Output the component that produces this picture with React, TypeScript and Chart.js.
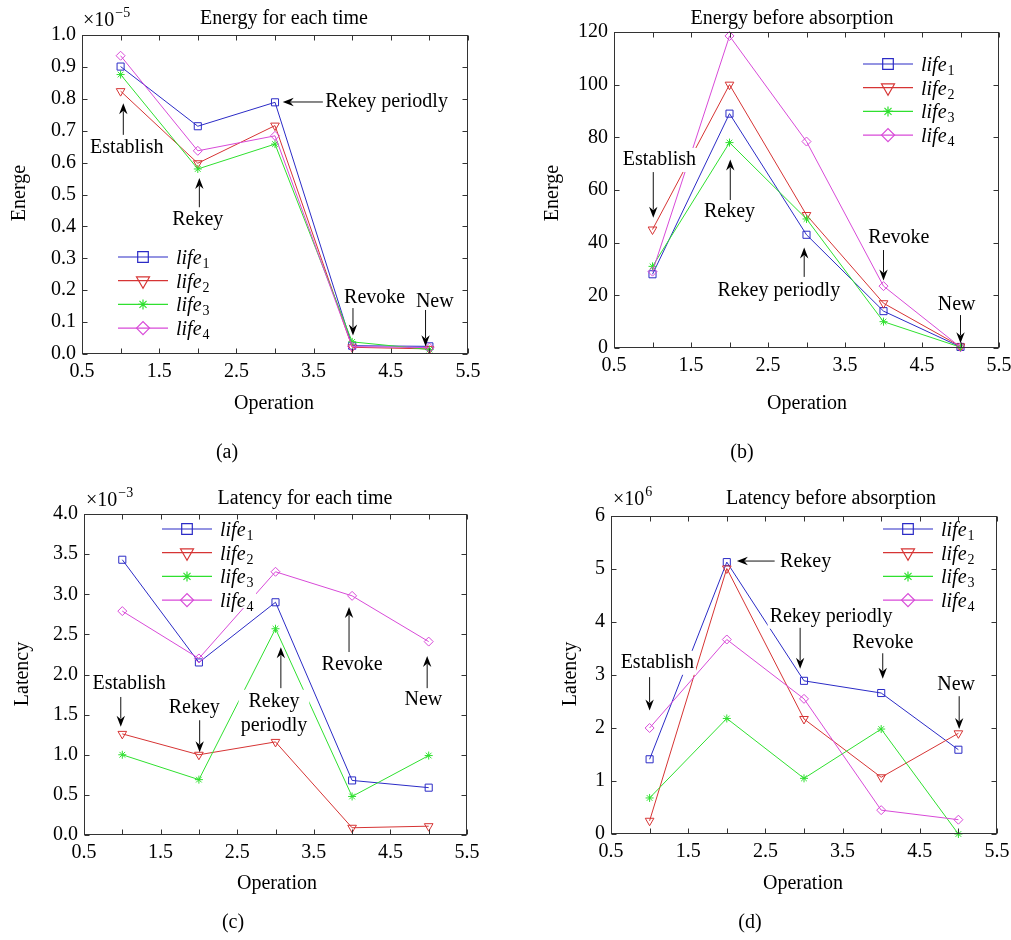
import React, { useEffect, useRef } from 'react';
import { Chart, registerables } from 'chart.js';
import { drawPoint } from 'chart.js/helpers';

Chart.register(...registerables);

// ---------------- data ----------------
const operations = [1, 2, 3, 4, 5];
const seriesNames = ['life', 'life', 'life', 'life'];
const seriesSubs = ['1', '2', '3', '4'];
const xTickValues = [0.5, 1.5, 2.5, 3.5, 4.5, 5.5];
const xMinorTickValues = [0.5, 1, 1.5, 2, 2.5, 3, 3.5, 4, 4.5, 5, 5.5];

// (a) Energy for each time (x10^-5)
const energyEachLife1 = [0.901, 0.714, 0.789, 0.026, 0.024];
const energyEachLife2 = [0.824, 0.598, 0.716, 0.021, 0.016];
const energyEachLife3 = [0.876, 0.58, 0.658, 0.038, 0.014];
const energyEachLife4 = [0.935, 0.637, 0.684, 0.023, 0.02];
const energyEachTicks = [0, 0.1, 0.2, 0.3, 0.4, 0.5, 0.6, 0.7, 0.8, 0.9, 1.0];

// (b) Energy before absorption
const energyBeforeLife1 = [28, 89, 43, 14, 0.4];
const energyBeforeLife2 = [45, 100, 50.5, 17, 0.6];
const energyBeforeLife3 = [31, 78, 49, 10, 0.3];
const energyBeforeLife4 = [29, 118.5, 78.4, 23.5, 0.3];
const energyBeforeTicks = [0, 20, 40, 60, 80, 100, 120];

// (c) Latency for each time (x10^-3)
const latencyEachLife1 = [3.43, 2.15, 2.9, 0.68, 0.59];
const latencyEachLife2 = [1.26, 1.0, 1.16, 0.09, 0.11];
const latencyEachLife3 = [1.0, 0.69, 2.57, 0.48, 0.99];
const latencyEachLife4 = [2.79, 2.2, 3.28, 2.98, 2.41];
const latencyEachTicks = [0, 0.5, 1.0, 1.5, 2.0, 2.5, 3.0, 3.5, 4.0];

// (d) Latency before absorption (x10^6)
const latencyBeforeLife1 = [1.41, 5.13, 2.89, 2.66, 1.59];
const latencyBeforeLife2 = [0.25, 5.01, 2.17, 1.07, 1.9];
const latencyBeforeLife3 = [0.68, 2.18, 1.05, 1.98, 0.0];
const latencyBeforeLife4 = [2.0, 3.67, 2.55, 0.45, 0.27];
const latencyBeforeTicks = [0, 1, 2, 3, 4, 5, 6];

// ---------------- styles ----------------
const FONT = "'Liberation Serif', 'Times New Roman', serif";
const seriesStyles = [
  { color: '#2b2bc6', pointStyle: 'rect', radius: 5, rotation: 0, lradius: 7.5 },
  { color: '#d63434', pointStyle: 'triangle', radius: 5, rotation: 180, lradius: 7.5 },
  { color: '#2fe02f', pointStyle: 'star', radius: 4, rotation: 0, lradius: 5 },
  { color: '#d84ad8', pointStyle: 'rectRot', radius: 4.5, rotation: 0, lradius: 6.5 },
];

type Ann = {
  text: string[];
  tx: number;
  ty: number;
  align?: 'left' | 'center';
  tail?: [number, number];
  head?: [number, number];
};

type PanelCfg = {
  box: { left: number; top: number; w: number; h: number };
  area: { left: number; top: number; right: number; bottom: number };
  series: number[][];
  yTicks: number[];
  yDecimals: number;
  title: string;
  titlePos: [number, number];
  xLabelPos: [number, number];
  yLabel: string;
  yLabelPos: [number, number];
  caption: string;
  captionPos: [number, number];
  exponent?: string;
  expPos?: [number, number];
  legendPos: [number, number];
  annotations: Ann[];
};

const panels: PanelCfg[] = [
  {
    box: { left: 0, top: 0, w: 505, h: 470 },
    area: { left: 82, top: 35, right: 468, bottom: 354 },
    series: [energyEachLife1, energyEachLife2, energyEachLife3, energyEachLife4],
    yTicks: energyEachTicks,
    yDecimals: 1,
    title: 'Energy for each time',
    titlePos: [284, 24],
    xLabelPos: [274, 409],
    yLabel: 'Energe',
    yLabelPos: [25, 193],
    caption: '(a)',
    captionPos: [227, 458],
    exponent: '\u22125',
    expPos: [83, 26],
    legendPos: [118, 257],
    annotations: [
      { text: ['Establish'], tx: 1.08, ty: 0.646, tail: [1.035, 0.687], head: [1.035, 0.786] },
      { text: ['Rekey'], tx: 2.0, ty: 0.42, tail: [2.02, 0.46], head: [2.02, 0.552] },
      { text: ['Rekey periodly'], tx: 3.65, ty: 0.79, align: 'left', tail: [3.62, 0.79], head: [3.1, 0.79] },
      { text: ['Revoke'], tx: 4.29, ty: 0.176, tail: [4.01, 0.144], head: [4.01, 0.058] },
      { text: ['New'], tx: 5.07, ty: 0.163, tail: [4.95, 0.138], head: [4.95, 0.024] },
    ],
  },
  {
    box: { left: 505, top: 0, w: 506, h: 470 },
    area: { left: 109, top: 32, right: 494, bottom: 348 },
    series: [energyBeforeLife1, energyBeforeLife2, energyBeforeLife3, energyBeforeLife4],
    yTicks: energyBeforeTicks,
    yDecimals: 0,
    title: 'Energy before absorption',
    titlePos: [287, 24],
    xLabelPos: [302, 409],
    yLabel: 'Energe',
    yLabelPos: [53, 193],
    caption: '(b)',
    captionPos: [237, 458],
    legendPos: [358, 64],
    annotations: [
      { text: ['Establish'], tx: 1.09, ty: 71.4, tail: [1.01, 66.8], head: [1.01, 49.5] },
      { text: ['Rekey'], tx: 2.0, ty: 51.7, tail: [2.01, 56.2], head: [2.01, 71.6] },
      { text: ['Rekey periodly'], tx: 2.64, ty: 21.6, tail: [2.97, 27], head: [2.97, 38.2] },
      { text: ['Revoke'], tx: 4.2, ty: 41.8, tail: [4.0, 37.2], head: [4.0, 25.6] },
      { text: ['New'], tx: 4.95, ty: 16.3, tail: [5.0, 12.5], head: [5.0, 1.8] },
    ],
  },
  {
    box: { left: 0, top: 470, w: 505, h: 470 },
    area: { left: 84, top: 44, right: 467, bottom: 365 },
    series: [latencyEachLife1, latencyEachLife2, latencyEachLife3, latencyEachLife4],
    yTicks: latencyEachTicks,
    yDecimals: 1,
    title: 'Latency for each time',
    titlePos: [305, 34],
    xLabelPos: [277, 419],
    yLabel: 'Latency',
    yLabelPos: [28, 204],
    caption: '(c)',
    captionPos: [233, 458],
    exponent: '\u22123',
    expPos: [86, 36],
    legendPos: [162, 59],
    annotations: [
      { text: ['Establish'], tx: 1.09, ty: 1.88, tail: [0.98, 1.72], head: [0.98, 1.35] },
      { text: ['Rekey'], tx: 1.94, ty: 1.59, tail: [2.01, 1.43], head: [2.01, 1.03] },
      { text: ['Rekey', 'periodly'], tx: 2.98, ty: 1.66, tail: [3.07, 1.83], head: [3.07, 2.34] },
      { text: ['Revoke'], tx: 4.0, ty: 2.12, tail: [3.96, 2.28], head: [3.96, 2.84] },
      { text: ['New'], tx: 4.93, ty: 1.68, tail: [4.98, 1.83], head: [4.98, 2.23] },
    ],
  },
  {
    box: { left: 505, top: 470, w: 506, h: 470 },
    area: { left: 106, top: 46, right: 492, bottom: 364 },
    series: [latencyBeforeLife1, latencyBeforeLife2, latencyBeforeLife3, latencyBeforeLife4],
    yTicks: latencyBeforeTicks,
    yDecimals: 0,
    title: 'Latency before absorption',
    titlePos: [326, 34],
    xLabelPos: [298, 419],
    yLabel: 'Latency',
    yLabelPos: [71, 204],
    caption: '(d)',
    captionPos: [245, 458],
    exponent: '6',
    expPos: [108, 35],
    legendPos: [378, 59],
    annotations: [
      { text: ['Rekey'], tx: 2.69, ty: 5.13, align: 'left', tail: [2.62, 5.15], head: [2.13, 5.15] },
      { text: ['Rekey periodly'], tx: 3.35, ty: 4.1, tail: [2.95, 3.89], head: [2.95, 3.12] },
      { text: ['Revoke'], tx: 4.02, ty: 3.6, tail: [4.02, 3.41], head: [4.02, 2.93] },
      { text: ['Establish'], tx: 1.1, ty: 3.23, tail: [1.0, 2.96], head: [1.0, 2.33] },
      { text: ['New'], tx: 4.97, ty: 2.81, tail: [5.01, 2.6], head: [5.01, 1.98] },
    ],
  },
];

// ---------------- drawing helpers ----------------
function drawArrow(ctx: CanvasRenderingContext2D, x1: number, y1: number, x2: number, y2: number) {
  const ang = Math.atan2(y2 - y1, x2 - x1);
  const L = 11;
  const W = 4.2;
  ctx.save();
  ctx.strokeStyle = '#111';
  ctx.fillStyle = '#000';
  ctx.lineWidth = 1;
  ctx.beginPath();
  ctx.moveTo(x1, y1);
  ctx.lineTo(x2 - Math.cos(ang) * (L - 3), y2 - Math.sin(ang) * (L - 3));
  ctx.stroke();
  ctx.translate(x2, y2);
  ctx.rotate(ang);
  ctx.beginPath();
  ctx.moveTo(0, 0);
  ctx.lineTo(-L, -W);
  ctx.lineTo(-L + 3.5, 0);
  ctx.lineTo(-L, W);
  ctx.closePath();
  ctx.fill();
  ctx.restore();
}

function makePlugin(cfg: PanelCfg) {
  return {
    id: 'panelDecor',
    afterDatasetsDraw(chart: any) {
      const ctx: CanvasRenderingContext2D = chart.ctx;
      const xs = chart.scales.x;
      const ys = chart.scales.y;
      const a = chart.chartArea;
      ctx.save();

      // legend
      const [lx, ly] = cfg.legendPos;
      const rowH = 23.7;
      ctx.fillStyle = '#fff';
      ctx.fillRect(lx, ly - 11, 94, rowH * 3 + 19);
      seriesStyles.forEach((st, i) => {
        const y = ly + i * rowH;
        ctx.strokeStyle = st.color;
        ctx.lineWidth = 1.2;
        ctx.beginPath();
        ctx.moveTo(lx, y);
        ctx.lineTo(lx + 50, y);
        ctx.stroke();
        ctx.fillStyle = 'rgba(0,0,0,0)';
        drawPoint(
          ctx,
          { pointStyle: st.pointStyle as any, radius: st.lradius, rotation: st.rotation, borderWidth: 1.3 } as any,
          lx + 25,
          y
        );
        ctx.fillStyle = '#000';
        ctx.textAlign = 'left';
        ctx.textBaseline = 'alphabetic';
        ctx.font = `italic 20px ${FONT}`;
        const tx = lx + 58;
        ctx.fillText(seriesNames[i], tx, y + 7);
        const w = ctx.measureText(seriesNames[i]).width;
        ctx.font = `14px ${FONT}`;
        ctx.fillText(seriesSubs[i], tx + w + 1, y + 11);
      });

      // annotations
      ctx.font = `20px ${FONT}`;
      ctx.textBaseline = 'middle';
      for (const an of cfg.annotations) {
        const px = xs.getPixelForValue(an.tx);
        const py = ys.getPixelForValue(an.ty);
        const lh = 24;
        const n = an.text.length;
        const widths = an.text.map((t) => ctx.measureText(t).width);
        const maxW = Math.max(...widths);
        const left = an.align === 'left' ? px : px - maxW / 2;
        ctx.fillStyle = '#fff';
        ctx.fillRect(left - 2, py - lh / 2, maxW + 4, lh * n);
        ctx.fillStyle = '#000';
        an.text.forEach((t, i) => {
          ctx.textAlign = an.align === 'left' ? 'left' : 'center';
          ctx.fillText(t, px, py + i * lh);
        });
        if (an.tail && an.head) {
          drawArrow(
            ctx,
            xs.getPixelForValue(an.tail[0]),
            ys.getPixelForValue(an.tail[1]),
            xs.getPixelForValue(an.head[0]),
            ys.getPixelForValue(an.head[1])
          );
        }
      }

      // frame
      ctx.strokeStyle = '#333';
      ctx.lineWidth = 1;
      const L = Math.round(a.left) + 0.5;
      const R = Math.round(a.right) - 0.5;
      const T = Math.round(a.top) + 0.5;
      const B = Math.round(a.bottom) - 0.5;
      ctx.strokeRect(L, T, R - L, B - T);
      // inward ticks
      ctx.beginPath();
      const tl = 5;
      for (const v of xMinorTickValues) {
        const x = Math.round(xs.getPixelForValue(v)) + 0.5;
        ctx.moveTo(x, B);
        ctx.lineTo(x, B - tl);
        ctx.moveTo(x, T);
        ctx.lineTo(x, T + tl);
      }
      for (const v of cfg.yTicks) {
        const y = Math.round(ys.getPixelForValue(v)) + 0.5;
        ctx.moveTo(L, y);
        ctx.lineTo(L + tl, y);
        ctx.moveTo(R, y);
        ctx.lineTo(R - tl, y);
      }
      ctx.stroke();
      ctx.restore();
    },
    afterDraw(chart: any) {
      const ctx: CanvasRenderingContext2D = chart.ctx;
      ctx.save();
      ctx.fillStyle = '#000';
      ctx.textBaseline = 'alphabetic';
      ctx.textAlign = 'center';
      ctx.font = `20px ${FONT}`;
      ctx.fillText(cfg.title, cfg.titlePos[0], cfg.titlePos[1]);
      ctx.fillText('Operation', cfg.xLabelPos[0], cfg.xLabelPos[1]);
      ctx.fillText(cfg.caption, cfg.captionPos[0], cfg.captionPos[1]);
      ctx.save();
      ctx.translate(cfg.yLabelPos[0], cfg.yLabelPos[1]);
      ctx.rotate(-Math.PI / 2);
      ctx.fillText(cfg.yLabel, 0, 0);
      ctx.restore();
      if (cfg.exponent && cfg.expPos) {
        ctx.textAlign = 'left';
        ctx.font = `20px ${FONT}`;
        const base = '\u00d710';
        ctx.fillText(base, cfg.expPos[0], cfg.expPos[1]);
        const w = ctx.measureText(base).width;
        ctx.font = `14px ${FONT}`;
        ctx.fillText(cfg.exponent, cfg.expPos[0] + w + 1, cfg.expPos[1] - 9);
      }
      ctx.restore();
    },
  };
}

function Panel({ cfg }: { cfg: PanelCfg }) {
  const ref = useRef<HTMLCanvasElement | null>(null);
  useEffect(() => {
    if (!ref.current) return;
    const { box, area } = cfg;
    const yMin = cfg.yTicks[0];
    const yMax = cfg.yTicks[cfg.yTicks.length - 1];
    const chart = new Chart(ref.current, {
      type: 'line',
      data: {
        datasets: cfg.series.map((vals, i) => ({
          label: seriesNames[i] + seriesSubs[i],
          data: operations.map((x, j) => ({ x, y: vals[j] })),
          borderColor: seriesStyles[i].color,
          backgroundColor: 'rgba(0,0,0,0)',
          borderWidth: 1,
          pointStyle: seriesStyles[i].pointStyle as any,
          pointRadius: seriesStyles[i].radius,
          pointRotation: seriesStyles[i].rotation,
          pointBorderColor: seriesStyles[i].color,
          pointBackgroundColor: 'rgba(0,0,0,0)',
          pointBorderWidth: 1,
          tension: 0,
          fill: false,
          clip: false as any,
          order: 4 - i,
        })),
      },
      options: {
        animation: false,
        responsive: false,
        maintainAspectRatio: false,
        devicePixelRatio: 1,
        layout: { padding: { left: 0, top: area.top, right: box.w - area.right, bottom: 0 } },
        plugins: { legend: { display: false }, tooltip: { enabled: false }, title: { display: false } },
        events: [],
        scales: {
          x: {
            type: 'linear',
            min: 0.5,
            max: 5.5,
            grid: { display: false, drawTicks: false },
            border: { display: false },
            ticks: {
              font: { family: FONT, size: 20 },
              color: '#000',
              padding: 6,
              maxRotation: 0,
              autoSkip: false,
              callback: (v: any) => Number(v).toFixed(1),
            },
            afterBuildTicks: (s: any) => {
              s.ticks = xTickValues.map((v) => ({ value: v }));
            },
            afterFit: (s: any) => {
              s.height = box.h - area.bottom;
              s.paddingLeft = 0;
              s.paddingRight = 0;
            },
          },
          y: {
            type: 'linear',
            min: yMin,
            max: yMax,
            grid: { display: false, drawTicks: false },
            border: { display: false },
            ticks: {
              font: { family: FONT, size: 20 },
              color: '#000',
              padding: 6,
              autoSkip: false,
              callback: (v: any) => Number(v).toFixed(cfg.yDecimals),
            },
            afterBuildTicks: (s: any) => {
              s.ticks = cfg.yTicks.map((v) => ({ value: v }));
            },
            afterFit: (s: any) => {
              s.width = area.left;
              s.paddingTop = 0;
              s.paddingBottom = 0;
            },
          },
        },
      },
      plugins: [makePlugin(cfg)],
    } as any);
    return () => chart.destroy();
  }, [cfg]);
  return (
    <div style={{ position: 'absolute', left: cfg.box.left, top: cfg.box.top, width: cfg.box.w, height: cfg.box.h }}>
      <canvas ref={ref} width={cfg.box.w} height={cfg.box.h} style={{ width: cfg.box.w, height: cfg.box.h, display: 'block' }} />
    </div>
  );
}

export default function App() {
  return (
    <div style={{ position: 'absolute', left: 0, top: 0, width: 1011, height: 940, background: '#fff', overflow: 'hidden' }}>
      {panels.map((p, i) => (
        <Panel key={i} cfg={p} />
      ))}
    </div>
  );
}
